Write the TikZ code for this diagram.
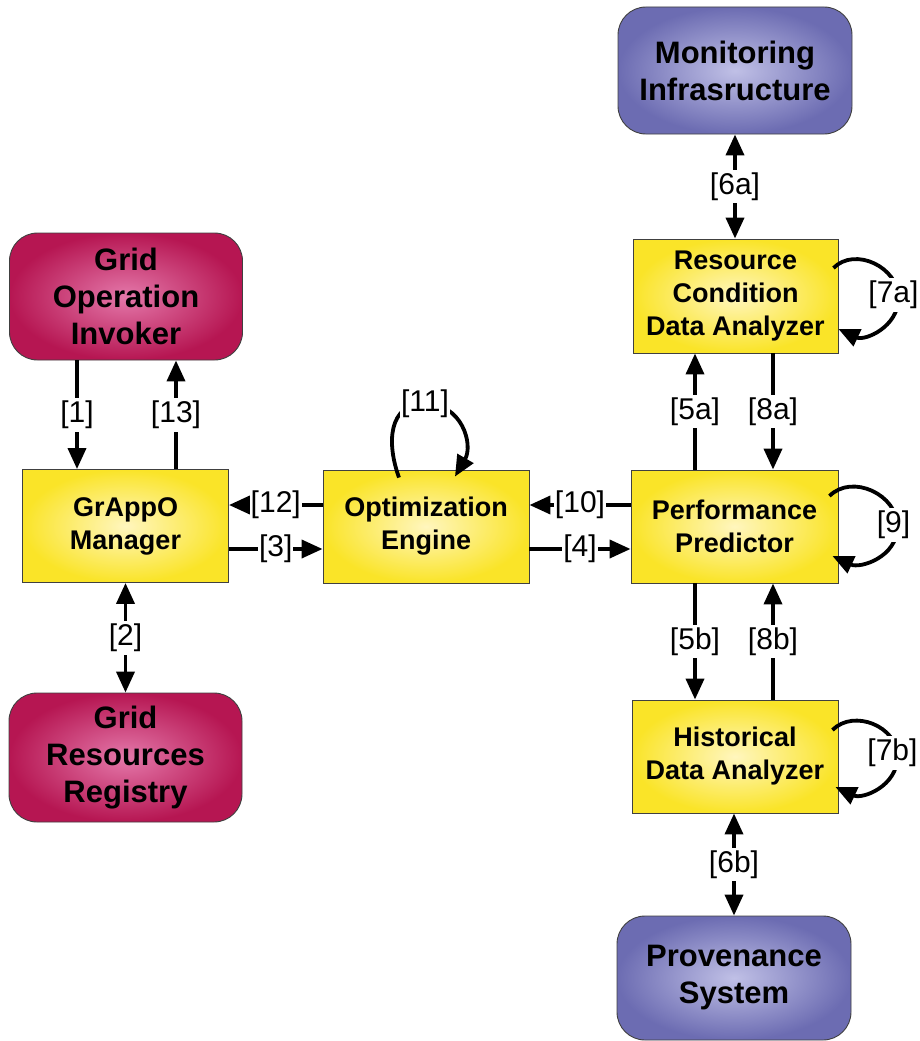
\documentclass[tikz,border=0pt]{standalone}
\usepackage{fontspec}
\setmainfont{Liberation Sans}
\usetikzlibrary{arrows.meta}
\definecolor{yelin}{RGB}{255,246,190}
\definecolor{yelout}{RGB}{250,228,40}
\definecolor{magin}{RGB}{228,120,170}
\definecolor{magout}{RGB}{182,22,82}
\definecolor{purin}{RGB}{192,192,230}
\definecolor{purout}{RGB}{108,108,178}
\begin{document}
\begin{tikzpicture}[x=1pt,y=1pt,
  box/.style={draw=black!75, line width=0.9pt, align=center, inner sep=0pt,
    font=\bfseries\fontsize{27}{33}\selectfont},
  yelbox/.style={box, rectangle, minimum width=206, minimum height=113,
    inner color=yelin, outer color=yelout},
  endbox/.style={box, rounded corners=28, minimum width=233, minimum height=127,
    font=\bfseries\fontsize{31}{37}\selectfont},
  magbox/.style={endbox, inner color=magin, outer color=magout},
  purbox/.style={endbox, inner color=purin, outer color=purout},
  tip/.tip={Triangle[length=21pt,width=18pt]},
  flow/.style={line width=3.8pt, -tip},
  both/.style={line width=3.8pt, tip-tip},
  lbl/.style={fill=white, inner xsep=1pt, inner ysep=3pt,
    font=\fontsize{30}{30}\selectfont}]
\useasboundingbox (0,0) rectangle (920,-1041);

% grid side
\node[magbox] (goi) at (126,-296.5) {Grid\\Operation\\Invoker};
\node[yelbox] (gam) at (125.5,-526) {GrAppO\\Manager};
\node[magbox, minimum height=129] (grr) at (125.5,-757.5) {Grid\\Resources\\Registry};

% optimization
\node[yelbox] (oe) at (426,-526.5) {Optimization\\Engine};

% prediction column
\node[yelbox, minimum width=207] (pp) at (734.5,-526.5) {Performance\\Predictor};
\node[yelbox, minimum width=205, minimum height=114] (rc) at (735.5,-296) {Resource\\Condition\\Data Analyzer};
\node[yelbox] (hd) at (735,-756.5) {Historical\\Data Analyzer};
\node[purbox, minimum width=234] (mi) at (735,-70.5) {Monitoring\\Infrasructure};
\node[purbox, minimum width=234, minimum height=124] (ps) at (734,-978) {Provenance\\System};

% invoker and registry links
\draw[flow] (goi.south -| 77,0) -- node[lbl]{[1]} (gam.north -| 77,0);
\draw[flow] (gam.north -| 176,0) -- node[lbl]{[13]} (goi.south -| 176,0);
\draw[both] (gam.south) -- node[lbl]{[2]} (grr.north);

% horizontal exchanges
\draw[flow] (oe.west |- 0,-505) -- node[lbl]{[12]} (gam.east |- 0,-505);
\draw[flow] (gam.east |- 0,-549) -- node[lbl]{[3]} (oe.west |- 0,-549);
\draw[flow] (pp.west |- 0,-505) -- node[lbl]{[10]} (oe.east |- 0,-505);
\draw[flow] (oe.east |- 0,-549) -- node[lbl]{[4]} (pp.west |- 0,-549);

% predictor and analyzers
\draw[flow] (pp.north -| 695,0) -- node[lbl]{[5a]} (rc.south -| 695,0);
\draw[flow] (rc.south -| 773,0) -- node[lbl]{[8a]} (pp.north -| 773,0);
\draw[flow] (pp.south -| 695,0) -- node[lbl]{[5b]} (hd.north -| 695,0);
\draw[flow] (hd.north -| 773,0) -- node[lbl]{[8b]} (pp.south -| 773,0);
\draw[both] (mi.south -| 735,0) -- node[lbl]{[6a]} (rc.north -| 735,0);
\draw[both] (hd.south -| 734,0) -- node[lbl]{[6b]} (ps.north -| 734,0);

% self loops
\draw[flow] ([shift={(-27,-8)}]oe.north)
  to[out=110,in=180,looseness=1.2] ([shift={(-1,66)}]oe.north) node[lbl]{[11]}
  to[out=0,in=60,looseness=1.2] ([shift={(29,-7)}]oe.north);
\draw[flow] ([shift={(-5,28)}]rc.east)
  to[out=45,in=90,looseness=1.1] ([shift={(60,-2)}]rc.east) node[lbl,xshift=-5,yshift=3]{[7a]}
  to[out=-90,in=-25,looseness=1.1] ([shift={(0,-33)}]rc.east);
\draw[flow] ([shift={(-9,30.5)}]pp.east)
  to[out=45,in=90,looseness=1.1] ([shift={(59,0)}]pp.east) node[lbl,xshift=-4,yshift=1.5]{[9]}
  to[out=-90,in=-25,looseness=1.1] ([shift={(-6,-29.5)}]pp.east);
\draw[flow] ([shift={(-6,26.5)}]hd.east)
  to[out=45,in=90,looseness=1.1] ([shift={(59,0)}]hd.east) node[lbl,xshift=-5,yshift=3.5]{[7b]}
  to[out=-90,in=-25,looseness=1.1] ([shift={(-3,-30.5)}]hd.east);
\end{tikzpicture}
\end{document}
